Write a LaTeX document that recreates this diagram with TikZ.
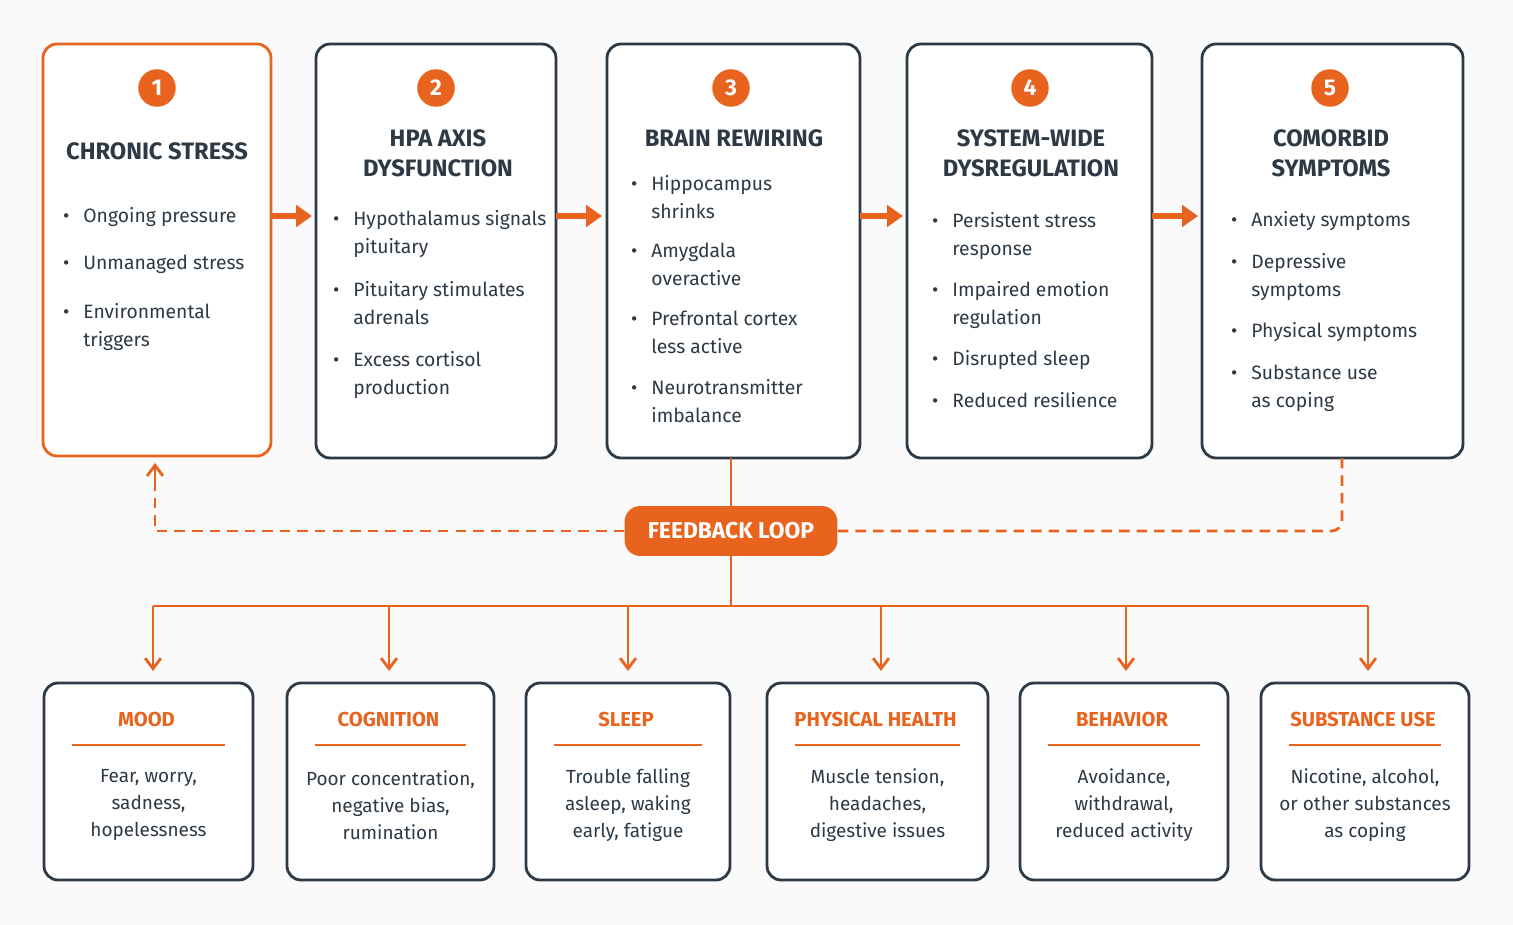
\documentclass[tikz,border=0pt]{standalone}
\usepackage{fontspec}
\setmainfont{Fira Sans}
\usetikzlibrary{arrows.meta}
\definecolor{org}{HTML}{E8641E}
\definecolor{dk}{HTML}{2D3A45}
\definecolor{bg}{HTML}{FAFAFA}
\tikzset{x=0.02cm,y=-0.02cm,
 box/.style={draw=dk,line width=1.6pt,rounded corners=8pt,fill=white},
 num/.style={circle,fill=org,text=white,minimum size=0.75cm,inner sep=0pt,font=\bfseries\fontsize{13}{13}\selectfont},
 ttl/.style={align=center,text=dk,font=\bfseries\fontsize{13.5}{17}\selectfont},
 bt/.style={anchor=north west,align=left,inner sep=0pt,text=dk,font=\fontsize{11}{16}\selectfont},
 bttl/.style={text=org,font=\bfseries\fontsize{11.5}{14}\selectfont},
 btx/.style={align=center,text=dk,font=\fontsize{10.8}{15.3}\selectfont},
 big/.style={-{Triangle[length=9pt,width=12pt]},org,line width=3pt},
 arr/.style={-{Straight Barb[length=6pt,width=9pt]},org,line width=1.6pt},
 dsh/.style={org,line width=1.6pt,dash pattern=on 6pt off 4pt}}
\newcommand\bul[4]{\node[bt] (#1) at (#2+20,#3-9) {\llap{\textbullet\hspace{8pt}}#4};}
\begin{document}
\begin{tikzpicture}
\fill[bg] (0,0) rectangle (1513,925);
\useasboundingbox (0,0) rectangle (1513,925);
% top boxes
\draw[box,draw=org] (43,44) rectangle (271,456);
\draw[box] (316,44) rectangle (556,458);
\draw[box] (607,44) rectangle (860,458);
\draw[box] (907,44) rectangle (1152,458);
\draw[box] (1202,44) rectangle (1463,458);
\node[num] (n1) at (157,88) {1};
\node[num] (n2) at (436,88) {2};
\node[num] (n3) at (731,88) {3};
\node[num] (n4) at (1030,88) {4};
\node[num] (n5) at (1330,88) {5};
\node[ttl] (t1) at (157,151) {CHRONIC STRESS};
\node[ttl] (t2) at (438,153) {HPA AXIS\\DYSFUNCTION};
\node[ttl] (t3) at (734,138) {BRAIN REWIRING};
\node[ttl] (t4) at (1031,153) {SYSTEM-WIDE\\DYSREGULATION};
\node[ttl] (t5) at (1331,153) {COMORBID\\SYMPTOMS};
\bul{a1}{63}{216}{Ongoing pressure}
\bul{a2}{63}{264}{Unmanaged stress}
\bul{a3}{63}{312}{Environmental\\triggers}
\bul{b1}{333}{219}{Hypothalamus signals\\pituitary}
\bul{b2}{333}{290}{Pituitary stimulates\\adrenals}
\bul{b3}{333}{360}{Excess cortisol\\production}
\bul{c1}{631}{184}{Hippocampus\\shrinks}
\bul{c2}{631}{252}{Amygdala\\overactive}
\bul{c3}{631}{320}{Prefrontal cortex\\less active}
\bul{c4}{631}{388}{Neurotransmitter\\imbalance}
\bul{d1}{932}{221}{Persistent stress\\response}
\bul{d2}{932}{290}{Impaired emotion\\regulation}
\bul{d3}{932}{359}{Disrupted sleep}
\bul{d4}{932}{401}{Reduced resilience}
\bul{e1}{1231}{220}{Anxiety symptoms}
\bul{e2}{1231}{262}{Depressive\\symptoms}
\bul{e3}{1231}{331}{Physical symptoms}
\bul{e4}{1231}{374}{Substance use\\as coping}
% arrows between
\coordinate (p1) at (271,216); \coordinate (q1) at (312,216);
\coordinate (p2) at (556,216); \coordinate (q2) at (602,216);
\coordinate (p3) at (860,216); \coordinate (q3) at (903,216);
\coordinate (p4) at (1152,216); \coordinate (q4) at (1198,216);
\draw[big] (p1)--(q1); \draw[big] (p2)--(q2); \draw[big] (p3)--(q3); \draw[big] (p4)--(q4);
% feedback
\node[fill=org,text=white,rounded corners=9pt,minimum width=4.26cm,minimum height=1cm,font=\bfseries\fontsize{13}{14}\selectfont] (fb) at (731,531) {FEEDBACK LOOP};
\coordinate (b3b) at (731,458);
\draw[org,line width=1.6pt] (b3b)--(fb.north);
\coordinate (b1b) at (155,463);
\draw[dsh] (fb.west)--(155,531)--(155,478);
\draw[arr] (155,482)--(b1b);
\coordinate (b5b) at (1342,458);
\draw[dsh,rounded corners=6pt] (fb.east)--(1342,531)--(b5b);
\coordinate (hub) at (731,606);
\draw[org,line width=1.6pt] (fb.south)--(hub);
\draw[org,line width=1.6pt] (153,606)--(1368,606);
% bottom boxes
\foreach \i/\xa/\xb/\ti/\tx in {1/44/253/MOOD/{Fear, worry,\\sadness,\\hopelessness},
 2/287/494/COGNITION/{Poor concentration,\\negative bias,\\rumination},
 3/526/730/SLEEP/{Trouble falling\\asleep, waking\\early, fatigue},
 4/767/988/PHYSICAL HEALTH/{Muscle tension,\\headaches,\\digestive issues},
 5/1020/1228/BEHAVIOR/{Avoidance,\\withdrawal,\\reduced activity},
 6/1261/1469/SUBSTANCE USE/{Nicotine, alcohol,\\or other substances\\as coping}}{
 \draw[box] (\xa,683) rectangle (\xb,880);
 \node[bttl] (bt\i) at ({(\xa+\xb)/2-2},719) {\ti};
 \draw[org,line width=1.2pt] ({\xa+28},745)--({\xb-28},745);
 \node[btx] (bx\i) at ({(\xa+\xb)/2},805) {\tx};
}
\foreach \x/\n in {153/1,389/2,628/3,881/4,1126/5,1368/6}{
 \coordinate (top\n) at (\x,606);
 \coordinate (bot\n) at (\x,671);
 \draw[arr] (top\n)--(bot\n);
}
\end{tikzpicture}
\end{document}
